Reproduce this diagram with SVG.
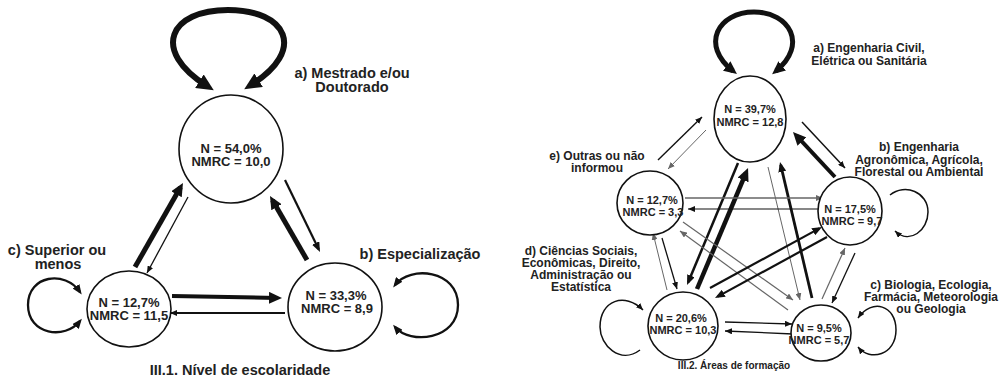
<svg xmlns="http://www.w3.org/2000/svg" width="1001" height="377" viewBox="0 0 1001 377">
<style>
.bg{fill:#fff}
.node{fill:#fff;stroke:#111;stroke-width:1.6}
.nt{font-family:"Liberation Sans",Arial,sans-serif;font-weight:bold;fill:#222;text-anchor:middle}
.n1{font-size:13px}
.n2{font-size:11px}
.lb{font-family:"Liberation Sans",Arial,sans-serif;font-weight:bold;fill:#222;text-anchor:middle}
.l1{font-size:14.5px}
.l2{font-size:12px}
.e{fill:none;stroke:#111}
.g{fill:none;stroke:#666}
</style>
<defs>
<marker id="as" viewBox="0 0 7 6" markerWidth="7" markerHeight="6" refX="7" refY="3" markerUnits="userSpaceOnUse" orient="auto-start-reverse"><path d="M0,0L7,3L0,6z" fill="#111"/></marker>
<marker id="ag" viewBox="0 0 7 6" markerWidth="7" markerHeight="6" refX="7" refY="3" markerUnits="userSpaceOnUse" orient="auto-start-reverse"><path d="M0,0L7,3L0,6z" fill="#666"/></marker>
<marker id="am" viewBox="0 0 10 8" markerWidth="10" markerHeight="8" refX="7" refY="4" markerUnits="userSpaceOnUse" orient="auto-start-reverse"><path d="M0,0L10,4L0,8z" fill="#111"/></marker>
<marker id="al" viewBox="0 0 13 12" markerWidth="13" markerHeight="12" refX="8" refY="6" markerUnits="userSpaceOnUse" orient="auto-start-reverse"><path d="M0,0L13,6L0,12z" fill="#111"/></marker>
<marker id="ax" viewBox="0 0 17 16" markerWidth="17" markerHeight="16" refX="9" refY="8" markerUnits="userSpaceOnUse" orient="auto-start-reverse"><path d="M0,0L17,8L0,16z" fill="#111"/></marker>
</defs>
<rect class="bg" x="0" y="0" width="1001" height="377"/>

<g id="connectors">
<!-- left diagram -->
<path class="e" stroke-width="6" d="M207 86 C150 50,170 10,228 10 C287 10,307 50,251 85" marker-start="url(#ax)" marker-end="url(#ax)"/>
<path class="e" stroke-width="2.3" d="M80 321 C65 340,28 335,28 305 C28 275,65 270,80 292" marker-start="url(#am)" marker-end="url(#am)"/>
<path class="e" stroke-width="2.3" d="M395 327 C410 345,458 340,458 305 C458 270,410 265,395 285" marker-start="url(#am)" marker-end="url(#am)"/>
<line class="e" stroke-width="5" x1="135" y1="267" x2="180.5" y2="187.3" marker-end="url(#al)"/>
<line class="e" stroke-width="1.3" x1="188" y1="197" x2="147" y2="273" marker-end="url(#as)"/>
<line class="e" stroke-width="2.2" x1="285" y1="180" x2="318.7" y2="249.3" marker-end="url(#am)"/>
<line class="e" stroke-width="5" x1="307" y1="260" x2="272.5" y2="200.3" marker-end="url(#al)"/>
<line class="e" stroke-width="4" x1="172" y1="296" x2="277" y2="298" marker-end="url(#al)"/>
<line class="e" stroke-width="1.8" x1="285" y1="313" x2="170" y2="313" marker-end="url(#as)"/>
<!-- right diagram -->
<path class="e" stroke-width="5" d="M733 71 C700 45,718 12,754 12 C790 12,808 45,776 71" marker-start="url(#al)" marker-end="url(#al)"/>
<path class="e" stroke-width="1.5" d="M895 231 C910 245,928 230,928 212 C928 192,905 183,890 195" marker-start="url(#as)"/>
<path class="e" stroke-width="1.5" d="M640 350 C620 365,600 345,600 327 C600 300,625 292,643 310" marker-end="url(#as)"/>
<path class="e" stroke-width="1.5" d="M858 347 C870 362,896 355,896 330 C896 305,872 298,858 318" marker-start="url(#as)" marker-end="url(#as)"/>
<line class="e" stroke-width="1.4" x1="658" y1="160" x2="702" y2="117" marker-end="url(#as)"/>
<line class="g" stroke-width="1" x1="706" y1="130" x2="668" y2="169" marker-end="url(#ag)"/>
<line class="e" stroke-width="1.5" x1="802" y1="122" x2="845" y2="168" marker-end="url(#as)"/>
<line class="e" stroke-width="4" x1="835" y1="177" x2="796.4" y2="135.7" marker-end="url(#al)"/>
<line class="e" stroke-width="2.5" x1="738" y1="163" x2="688.2" y2="282.2" marker-end="url(#am)"/>
<line class="e" stroke-width="4.5" x1="697" y1="289" x2="746.1" y2="172.6" marker-end="url(#al)"/>
<line class="g" stroke-width="1" x1="768" y1="167" x2="800" y2="300" marker-end="url(#ag)"/>
<line class="e" stroke-width="2.8" x1="812" y1="298" x2="780.7" y2="164.9" marker-end="url(#am)"/>
<line class="g" stroke-width="1.3" x1="685" y1="198" x2="823" y2="198" marker-end="url(#ag)"/>
<line class="e" stroke-width="1.2" x1="820" y1="209" x2="688" y2="209" marker-end="url(#as)"/>
<line class="g" stroke-width="1" x1="667" y1="290" x2="653" y2="233" marker-end="url(#ag)"/>
<line class="e" stroke-width="1.3" x1="662" y1="238" x2="677" y2="289" marker-end="url(#as)"/>
<line class="g" stroke-width="1.2" x1="683" y1="222" x2="793" y2="300" marker-end="url(#ag)"/>
<line class="g" stroke-width="1.2" x1="788" y1="310" x2="680" y2="231" marker-end="url(#ag)"/>
<line class="e" stroke-width="2.2" x1="710" y1="288" x2="819.4" y2="228.4" marker-end="url(#am)"/>
<line class="e" stroke-width="2.2" x1="827" y1="237" x2="717.6" y2="296.6" marker-end="url(#am)"/>
<line class="e" stroke-width="1.3" x1="725" y1="322" x2="792" y2="324" marker-end="url(#as)"/>
<line class="e" stroke-width="1.3" x1="793" y1="334" x2="725" y2="331" marker-end="url(#as)"/>
<line class="g" stroke-width="1.2" x1="822" y1="299" x2="845" y2="248" marker-end="url(#ag)"/>
<line class="e" stroke-width="1.3" x1="855" y1="253" x2="832" y2="303" marker-end="url(#as)"/>
</g>

<g id="L-a">
<ellipse class="node" cx="231" cy="149" rx="52" ry="54"/>
<text class="nt n1" x="231" y="152.5">N = 54,0%</text>
<text class="nt n1" x="231" y="165.5">NMRC = 10,0</text>
<text class="lb l1" x="352" y="78">a) Mestrado e/ou</text>
<text class="lb l1" x="352" y="92">Doutorado</text>
</g>
<g id="L-c">
<ellipse class="node" cx="129" cy="309" rx="42" ry="38"/>
<text class="nt n1" x="129" y="306.5">N = 12,7%</text>
<text class="nt n1" x="129" y="319.5">NMRC = 11,5</text>
<text class="lb l1" x="57" y="255">c) Superior ou</text>
<text class="lb l1" x="58" y="269">menos</text>
</g>
<g id="L-b">
<ellipse class="node" cx="335" cy="307" rx="47" ry="44"/>
<text class="nt n1" x="336" y="299.5">N = 33,3%</text>
<text class="nt n1" x="337" y="312.5">NMRC = 8,9</text>
<text class="lb l1" x="420" y="259">b) Especialização</text>
</g>
<text class="lb l1" x="240" y="375">III.1. Nível de escolaridade</text>

<g id="R-a">
<ellipse class="node" cx="750" cy="119" rx="36" ry="43"/>
<text class="nt n2" x="750" y="113">N = 39,7%</text>
<text class="nt n2" x="750" y="126">NMRC = 12,8</text>
<text class="lb l2" x="869" y="52">a) Engenharia Civil,</text>
<text class="lb l2" x="869" y="65">Elétrica ou Sanitária</text>
</g>
<g id="R-e">
<ellipse class="node" cx="650" cy="203" rx="33" ry="32"/>
<text class="nt n2" x="652" y="204">N = 12,7%</text>
<text class="nt n2" x="653" y="216">NMRC = 3,3</text>
<text class="lb l2" x="597" y="160">e) Outras ou não</text>
<text class="lb l2" x="597" y="172">informou</text>
</g>
<g id="R-b">
<ellipse class="node" cx="850" cy="211" rx="32" ry="34"/>
<text class="nt n2" x="850" y="213">N = 17,5%</text>
<text class="nt n2" x="852" y="225">NMRC = 9,7</text>
<text class="lb l2" x="919" y="151">b) Engenharia</text>
<text class="lb l2" x="919" y="163.5">Agronômica, Agrícola,</text>
<text class="lb l2" x="919" y="176">Florestal ou Ambiental</text>
</g>
<g id="R-d">
<ellipse class="node" cx="683" cy="326" rx="35" ry="34"/>
<text class="nt n2" x="681" y="322">N = 20,6%</text>
<text class="nt n2" x="683" y="334">NMRC = 10,3</text>
<text class="lb l2" x="581" y="255">d) Ciências Sociais,</text>
<text class="lb l2" x="581" y="267">Econômicas, Direito,</text>
<text class="lb l2" x="581" y="279">Administração ou</text>
<text class="lb l2" x="581" y="291">Estatística</text>
</g>
<g id="R-c">
<ellipse class="node" cx="821" cy="333" rx="30" ry="28"/>
<text class="nt n2" x="819" y="332">N = 9,5%</text>
<text class="nt n2" x="819" y="344">NMRC = 5,7</text>
<text class="lb l2" x="931" y="289">c) Biologia, Ecologia,</text>
<text class="lb l2" x="931" y="301">Farmácia, Meteorologia</text>
<text class="lb l2" x="931" y="313">ou Geologia</text>
</g>
<text class="lb" font-size="10" x="734" y="369">III.2. Áreas de formação</text>
</svg>
